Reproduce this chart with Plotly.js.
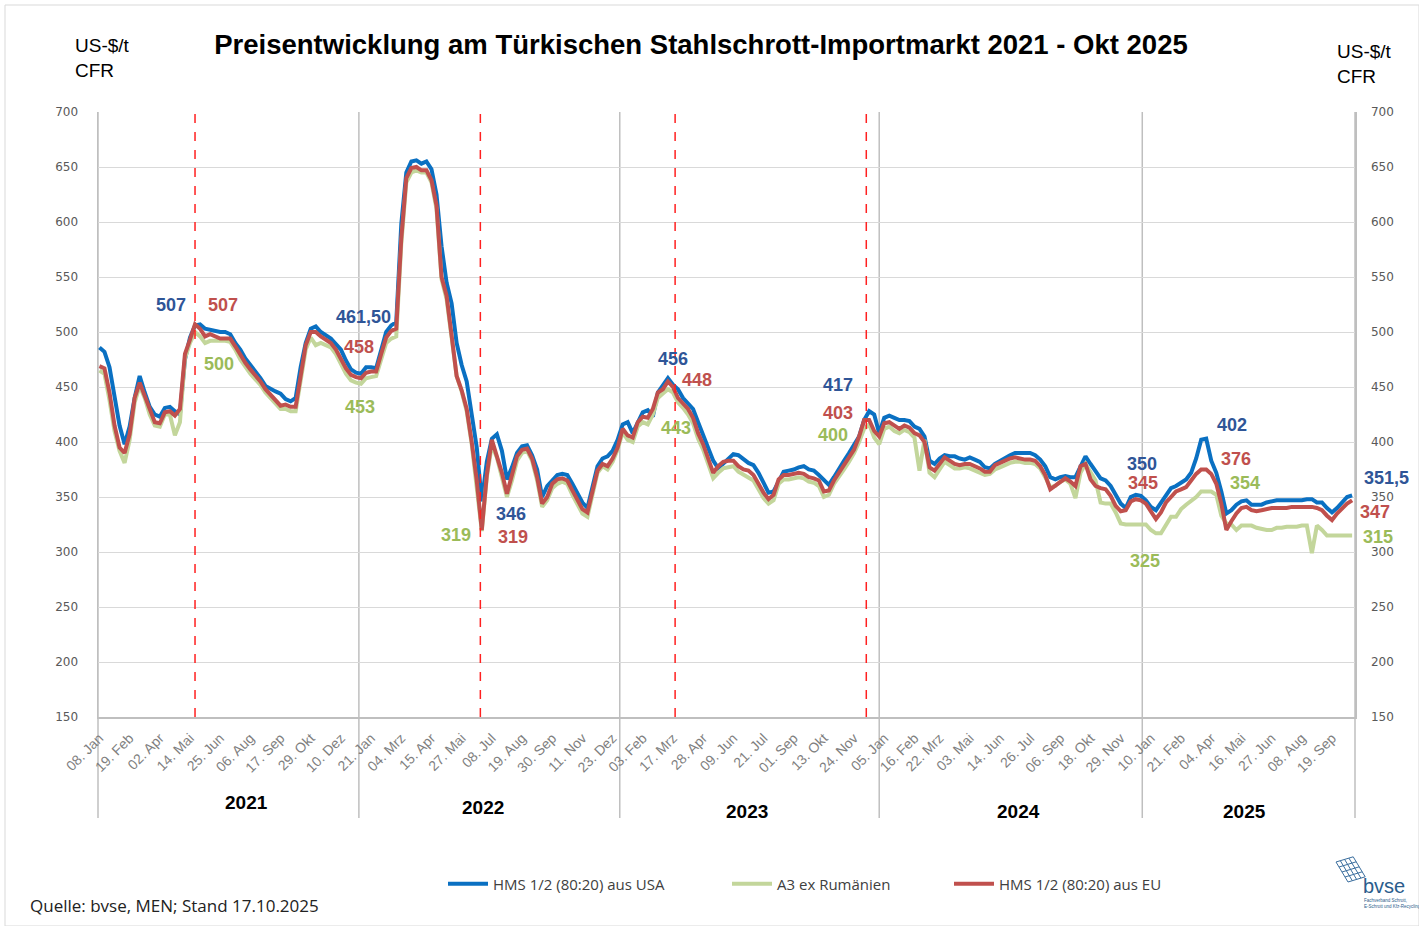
<!DOCTYPE html>
<html>
<head>
<meta charset="utf-8">
<script src="https://cdn.plot.ly/plotly-3.0.1.min.js"></script>
<style>
html,body{margin:0;padding:0;background:#fff;}
#chart{width:1419px;height:926px;}
</style>
</head>
<body>
<div id="chart"></div>
<script>
// ---------- DATA ----------
const weeks = [
'2021-01-08','2021-01-15','2021-01-22','2021-01-29','2021-02-05','2021-02-12','2021-02-19','2021-02-26','2021-03-05','2021-03-12',
'2021-03-19','2021-03-26','2021-04-02','2021-04-09','2021-04-16','2021-04-23','2021-04-30','2021-05-07','2021-05-14','2021-05-21',
'2021-05-28','2021-06-04','2021-06-11','2021-06-18','2021-06-25','2021-07-02','2021-07-09','2021-07-16','2021-07-23','2021-07-30',
'2021-08-06','2021-08-13','2021-08-20','2021-08-27','2021-09-03','2021-09-10','2021-09-17','2021-09-24','2021-10-01','2021-10-08',
'2021-10-15','2021-10-22','2021-10-29','2021-11-05','2021-11-12','2021-11-19','2021-11-26','2021-12-03','2021-12-10','2021-12-17',
'2021-12-24','2021-12-31',
'2022-01-07','2022-01-14','2022-01-21','2022-01-28','2022-02-04','2022-02-11','2022-02-18','2022-02-25','2022-03-04','2022-03-11',
'2022-03-18','2022-03-25','2022-04-01','2022-04-08','2022-04-15','2022-04-22','2022-04-29','2022-05-06','2022-05-13','2022-05-20',
'2022-05-27','2022-06-03','2022-06-10','2022-06-17','2022-06-24','2022-07-01','2022-07-08','2022-07-15','2022-07-22','2022-07-29',
'2022-08-05','2022-08-12','2022-08-19','2022-08-26','2022-09-02','2022-09-09','2022-09-16','2022-09-23','2022-09-30','2022-10-07',
'2022-10-14','2022-10-21','2022-10-28','2022-11-04','2022-11-11','2022-11-18','2022-11-25','2022-12-02','2022-12-09','2022-12-16',
'2022-12-23','2022-12-30',
'2023-01-06','2023-01-13','2023-01-20','2023-01-27','2023-02-03','2023-02-10','2023-02-17','2023-02-24','2023-03-03','2023-03-10',
'2023-03-17','2023-03-24','2023-03-31','2023-04-07','2023-04-14','2023-04-21','2023-04-28','2023-05-05','2023-05-12','2023-05-19',
'2023-05-26','2023-06-02','2023-06-09','2023-06-16','2023-06-23','2023-06-30','2023-07-07','2023-07-14','2023-07-21','2023-07-28',
'2023-08-04','2023-08-11','2023-08-18','2023-08-25','2023-09-01','2023-09-08','2023-09-15','2023-09-22','2023-09-29','2023-10-06',
'2023-10-13','2023-10-20','2023-10-27','2023-11-03','2023-11-10','2023-11-17','2023-11-24','2023-12-01','2023-12-08','2023-12-15',
'2023-12-22','2023-12-29',
'2024-01-05','2024-01-12','2024-01-19','2024-01-26','2024-02-02','2024-02-09','2024-02-16','2024-02-23','2024-03-01','2024-03-08',
'2024-03-15','2024-03-22','2024-03-29','2024-04-05','2024-04-12','2024-04-19','2024-04-26','2024-05-03','2024-05-10','2024-05-17',
'2024-05-24','2024-05-31','2024-06-07','2024-06-14','2024-06-21','2024-06-28','2024-07-05','2024-07-12','2024-07-19','2024-07-26',
'2024-08-02','2024-08-09','2024-08-16','2024-08-23','2024-08-30','2024-09-06','2024-09-13','2024-09-20','2024-09-27','2024-10-04',
'2024-10-11','2024-10-18','2024-10-25','2024-11-01','2024-11-08','2024-11-15','2024-11-22','2024-11-29','2024-12-06','2024-12-13',
'2024-12-20','2024-12-27',
'2025-01-03','2025-01-10','2025-01-17','2025-01-24','2025-01-31','2025-02-07','2025-02-14','2025-02-21','2025-02-28','2025-03-07',
'2025-03-14','2025-03-21','2025-03-28','2025-04-04','2025-04-11','2025-04-18','2025-04-25','2025-05-02','2025-05-09','2025-05-16',
'2025-05-23','2025-05-30','2025-06-06','2025-06-13','2025-06-20','2025-06-27','2025-07-04','2025-07-11','2025-07-18','2025-07-25',
'2025-08-01','2025-08-08','2025-08-15','2025-08-22','2025-08-29','2025-09-05','2025-09-12','2025-09-19','2025-09-26','2025-10-03',
'2025-10-10','2025-10-17'
];

// HMS 1/2 (80:20) aus USA
const hmsUSA = [
486,482,468,440,415,398,414,440,460,445,
432,425,423,431,432,428,425,475,495,506,
507,503,502,501,500,500,498,490,484,476,
470,465,458,451,448,446,444,439,437,440,
468,490,503,505,500,497,494,489,484,474,
466,463,462,468,468,467,485,500,506,509,
598,645,655,656,653,655,648,625,578,545,
526,490,470,455,425,395,346,382,403,407,
392,366,377,390,396,397,388,375,350,360,
365,370,371,370,362,353,345,340,360,378,
385,387,392,402,416,418,408,418,427,429,
423,445,452,458,452,448,440,435,430,418,
407,395,383,376,380,384,389,388,384,381,
379,372,363,354,355,364,373,374,375,377,
378,375,374,370,365,361,368,376,383,390,
397,405,420,428,425,408,422,424,422,420,
420,419,414,412,405,383,380,385,388,387,
387,385,384,386,384,382,377,376,380,383,
386,388,390,390,390,390,388,384,378,368,
366,368,369,368,368,378,387,380,374,367,
365,360,352,344,340,350,352,351,347,341,
338,345,352,358,360,363,366,372,385,402,
403,383,372,355,335,338,343,346,347,343,
343,343,345,346,347,347,347,347,347,347,
348,348,345,345,340,336,340,345,350,351.5
];

// A3 ex Rumänien
const a3Romania = [
465,462,438,410,392,381,402,436,451,440,
425,415,414,425,425,406,418,476,490,500,
496,490,492,492,492,492,491,484,475,468,
462,457,452,445,440,434,430,430,428,428,
455,484,495,488,490,488,486,480,470,462,
456,454,453,458,459,460,475,490,494,496,
580,636,645,647,645,645,636,612,548,530,
495,460,446,428,398,362,319,368,397,386,
368,350,365,383,390,392,383,365,341,347,
358,362,364,362,352,343,335,332,352,372,
378,375,382,393,409,402,400,414,418,416,
425,440,444,448,445,436,431,425,417,403,
393,380,367,372,376,377,378,373,370,368,
365,357,349,344,347,362,366,366,367,368,
367,364,363,360,350,352,362,368,375,382,
390,400,412,416,404,398,412,414,410,408,
411,409,404,374,402,372,368,375,382,379,
376,376,377,376,374,372,370,371,375,377,
379,381,382,382,381,381,380,376,368,359,
360,364,366,362,349,372,380,372,365,345,
344,344,336,326,325,325,325,325,325,320,
317,317,325,332,332,339,343,346,350,355,
355,355,352,333,326,325,320,324,324,324,
322,321,320,320,322,322,323,323,323,324,
324,299,324,320,315,315,315,315,315,315
];

// HMS 1/2 (80:20) aus EU
const hmsEU = [
469,467,445,415,395,390,407,440,454,442,
428,418,417,427,428,424,430,480,493,507,
503,496,498,496,494,494,494,487,479,472,
466,461,455,448,443,437,433,434,432,432,
460,488,500,500,496,493,490,484,476,467,
461,459,458,463,464,464,480,495,501,503,
585,640,649,650,647,647,638,615,550,533,
497,460,447,430,400,365,320,370,402,388,
372,353,370,387,393,394,385,368,344,350,
362,366,367,365,356,347,339,336,355,374,
380,378,385,395,412,406,404,418,423,422,
430,445,448,455,450,440,435,430,422,408,
398,385,372,378,382,383,383,378,375,374,
370,362,354,348,352,366,370,370,371,372,
371,368,367,365,355,356,365,372,378,385,
393,405,420,420,410,405,417,418,415,412,
415,413,408,406,400,377,374,380,386,383,
380,379,380,380,378,376,373,373,379,381,
383,385,386,385,384,384,383,378,370,357,
360,364,367,364,360,378,380,366,360,358,
357,351,342,337,338,346,348,347,344,337,
330,336,345,350,355,357,359,365,371,375,
375,371,362,344,320,328,335,340,341,338,
337,338,339,340,340,340,340,341,341,341,
341,341,340,338,333,329,335,340,344,347
];

const seriesNames = ['HMS 1/2 (80:20) aus USA', 'A3 ex Rumänien', 'HMS 1/2 (80:20) aus EU'];

const tickDates = [
'2021-01-08','2021-02-19','2021-04-02','2021-05-14','2021-06-25','2021-08-06','2021-09-17','2021-10-29','2021-12-10',
'2022-01-21','2022-03-04','2022-04-15','2022-05-27','2022-07-08','2022-08-19','2022-09-30','2022-11-11','2022-12-23',
'2023-02-03','2023-03-17','2023-04-28','2023-06-09','2023-07-21','2023-09-01','2023-10-13','2023-11-24',
'2024-01-05','2024-02-16','2024-03-22','2024-05-03','2024-06-14','2024-07-26','2024-09-06','2024-10-18','2024-11-29',
'2025-01-10','2025-02-21','2025-04-04','2025-05-16','2025-06-27','2025-08-08','2025-09-19'
];
const tickLabels = [
'08. Jan','19. Feb','02. Apr','14. Mai','25. Jun','06. Aug','17. Sep','29. Okt','10. Dez',
'21. Jan','04. Mrz','15. Apr','27. Mai','08. Jul','19. Aug','30. Sep','11. Nov','23. Dez',
'03. Feb','17. Mrz','28. Apr','09. Jun','21. Jul','01. Sep','13. Okt','24. Nov',
'05. Jan','16. Feb','22. Mrz','03. Mai','14. Jun','26. Jul','06. Sep','18. Okt','29. Nov',
'10. Jan','21. Feb','04. Apr','16. Mai','27. Jun','08. Aug','19. Sep'
];

const yearLabels = ['2021','2022','2023','2024','2025'];
const yearBreaks = ['2022-01-04','2023-01-02','2023-12-29','2024-12-29'];
const eventDates = ['2021-05-21','2022-06-22','2023-03-20','2023-12-11'];

// value call-outs: [text, series index, date, value]
const callouts = [
['507',0,'2021-04-18',524.5],['507',2,'2021-06-29',524.5],['500',1,'2021-06-24',471],
['461,50',0,'2022-01-10',513.6],['458',2,'2022-01-04',486.4],['453',1,'2022-01-06',431.8],
['319',1,'2022-05-19',315.5],['346',0,'2022-08-04',334.5],['319',2,'2022-08-06',313.6],
['456',0,'2023-03-17',475.5],['448',2,'2023-04-20',456.4],['443',1,'2023-03-21',412.7],
['417',0,'2023-11-02',451.8],['403',2,'2023-11-02',426.4],['400',1,'2023-10-25',406.4],
['350',0,'2024-12-29',380],['345',2,'2024-12-30',362.7],['325',1,'2025-01-02',291.8],
['402',0,'2025-05-03',415.5],['376',2,'2025-05-09',384.5],['354',1,'2025-05-21',362.7]
];
// latest values shown right of the plot
const latestLabels = [['351,5',0],['347',2],['315',1]];

// ---------- STYLE / LAYOUT ----------
const FIG_W = 1419, FIG_H = 926;
const M = {l:98, r:64, t:112, b:209};
const PW = FIG_W - M.l - M.r, PH = FIG_H - M.t - M.b;
const px = x => (x - M.l) / PW;
const py = y => (M.t + PH - y) / PH;

const lineColors = ['#0A70C2', '#C3D69B', '#C0504D'];
const labelColors = ['#2F5597', '#9BBB59', '#C0504D'];
const seriesData = [hmsUSA, a3Romania, hmsEU];
const legendIds = ['legend', 'legend2', 'legend3'];

const traces = seriesData.map((vals, i) => ({
  type: 'scatter', mode: 'lines', x: weeks, y: vals, name: seriesNames[i],
  line: {color: lineColors[i], width: 4},
  legend: legendIds[i], hoverinfo: 'x+y+name'
}));
// invisible trace to bind the right axis
traces.push({type:'scatter', mode:'none', x:[weeks[0]], y:[hmsUSA[0]], yaxis:'y2', showlegend:false, hoverinfo:'skip'});

const shapes = [];
shapes.push({type:'line', xref:'paper', yref:'paper', x0:0, x1:0, y0:py(818), y1:1, line:{color:'#BFBFBF', width:1.5}, layer:'below'});
shapes.push({type:'line', xref:'paper', yref:'paper', x0:1, x1:1, y0:py(818), y1:1, line:{color:'#BFBFBF', width:1.5}, layer:'below'});
yearBreaks.forEach(d => shapes.push({type:'line', xref:'x', yref:'paper', x0:d, x1:d, y0:py(818), y1:1, line:{color:'#BFBFBF', width:1.5}, layer:'below'}));
eventDates.forEach(d => shapes.push({type:'line', xref:'x', yref:'paper', x0:d, x1:d, y0:0, y1:py(106), line:{color:'#FF2020', width:1.5, dash:'dash'}, layer:'above'}));
// outer frame
shapes.push({type:'rect', xref:'paper', yref:'paper', x0:px(5), x1:px(1419), y0:py(926), y1:py(5), line:{color:'#D9D9D9', width:1}, layer:'below'});

// bvse logo mesh (decorative)
const logoBlue = '#3A6E9E';
(function(){
  const o = [1336, 862], u = [4.3, -1.3], v = [3.0, 5.0], n = 4;
  let d = '';
  for (let i = 0; i <= n; i++) {
    const a = [o[0] + u[0]*i, o[1] + u[1]*i], b = [a[0] + v[0]*n, a[1] + v[1]*n];
    d += `M${px(a[0])},${py(a[1])}L${px(b[0])},${py(b[1])}`;
    const c = [o[0] + v[0]*i, o[1] + v[1]*i], e = [c[0] + u[0]*n, c[1] + u[1]*n];
    d += `M${px(c[0])},${py(c[1])}L${px(e[0])},${py(e[1])}`;
  }
  shapes.push({type:'path', xref:'paper', yref:'paper', path:d, line:{color:logoBlue, width:1}});
})();

const annotations = [];
callouts.forEach(([t, s, d, v]) => annotations.push({
  xref:'x', yref:'y', x:d, y:v, text:'<b>'+t+'</b>', showarrow:false,
  font:{family:'Liberation Sans, Arial, sans-serif', size:18, color:labelColors[s]}, xanchor:'center', yanchor:'middle'
}));
const latestPos = [[1386,478],[1375,512],[1378,537]];
latestLabels.forEach(([t, s], k) => annotations.push({
  xref:'paper', yref:'paper', x:px(latestPos[k][0]), y:py(latestPos[k][1]), text:'<b>'+t+'</b>', showarrow:false,
  font:{family:'Liberation Sans, Arial, sans-serif', size:18, color:labelColors[s]}, xanchor:'center', yanchor:'middle'
}));
const yearPos = [[246,802],[483,808],[747,811],[1018,811],[1244,811]];
yearLabels.forEach((t, k) => annotations.push({
  xref:'paper', yref:'paper', x:px(yearPos[k][0]), y:py(yearPos[k][1]), text:'<b>'+t+'</b>', showarrow:false,
  font:{family:'Liberation Sans, Arial, sans-serif', size:19, color:'#000'}, xanchor:'center', yanchor:'middle'
}));
[[73,58],[1335,64]].forEach(([x, y]) => annotations.push({
  xref:'paper', yref:'paper', x:px(x), y:py(y), text:'US-$/t<br>CFR', showarrow:false, align:'left',
  font:{family:'Liberation Sans, Arial, sans-serif', size:19, color:'#000'}, xanchor:'left', yanchor:'middle'
}));
annotations.push({xref:'paper', yref:'paper', x:px(28), y:py(906), text:'Quelle: bvse, MEN; Stand 17.10.2025', showarrow:false,
  font:{family:'Open Sans, sans-serif', size:17, color:'#222'}, xanchor:'left', yanchor:'middle'});
annotations.push({xref:'paper', yref:'paper', x:px(1361), y:py(886), text:'bvse', showarrow:false,
  font:{family:'Liberation Sans, Arial, sans-serif', size:20, color:'#2B5D8C'}, xanchor:'left', yanchor:'middle'});
annotations.push({xref:'paper', yref:'paper', x:px(1362), y:py(903), text:'Fachverband Schrott,<br>E-Schrott und Kfz-Recycling', showarrow:false, align:'left',
  font:{family:'Liberation Sans, Arial, sans-serif', size:4.5, color:'#2B5D8C'}, xanchor:'left', yanchor:'middle'});

const legendBase = {orientation:'h', xanchor:'left', yanchor:'middle', bgcolor:'rgba(0,0,0,0)', borderwidth:0,
  font:{family:'Open Sans, sans-serif', size:15, color:'#404040'}, itemwidth:40};
const legendX = [443, 727, 949];

const layout = {
  width: FIG_W, height: FIG_H,
  margin: M,
  paper_bgcolor:'#fff', plot_bgcolor:'#fff',
  title: {text:'<b>Preisentwicklung am Türkischen Stahlschrott-Importmarkt 2021 - Okt 2025</b>',
    font:{family:'Liberation Sans, Arial, sans-serif', size:27.5, color:'#000'},
    x: 701/FIG_W, xanchor:'center', y: 1 - 44/FIG_H, yanchor:'middle'},
  xaxis: {type:'date', range:['2021-01-06','2025-10-21'], tickvals:tickDates, ticktext:tickLabels, tickangle:-45,
    tickfont:{family:'Liberation Sans, Arial, sans-serif', size:14, color:'#7F7F7F'}, ticklabelstandoff:6,
    showgrid:false, zeroline:false, showline:true, linecolor:'#BFBFBF', linewidth:1.5, ticks:'', fixedrange:true},
  yaxis: {range:[150,700], dtick:50, tick0:150, showgrid:true, gridcolor:'#D9D9D9', gridwidth:1, zeroline:false,
    showline:true, linecolor:'#BFBFBF', linewidth:1.5, ticks:'', ticklabelstandoff:16,
    tickfont:{family:'DejaVu Sans, Verdana, sans-serif', size:12, color:'#595959'}},
  yaxis2: {range:[150,700], dtick:50, tick0:150, overlaying:'y', side:'right', showgrid:false, zeroline:false,
    showline:true, linecolor:'#BFBFBF', linewidth:1.5, ticks:'', ticklabelstandoff:12,
    tickfont:{family:'DejaVu Sans, Verdana, sans-serif', size:12, color:'#595959'}},
  legend: Object.assign({}, legendBase, {x:px(legendX[0]), y:py(884)}),
  legend2: Object.assign({}, legendBase, {x:px(legendX[1]), y:py(884)}),
  legend3: Object.assign({}, legendBase, {x:px(legendX[2]), y:py(884)}),
  shapes: shapes,
  annotations: annotations,
  showlegend: true
};

Plotly.newPlot('chart', traces, layout, {displayModeBar:false, staticPlot:true});
</script>
</body>
</html>
